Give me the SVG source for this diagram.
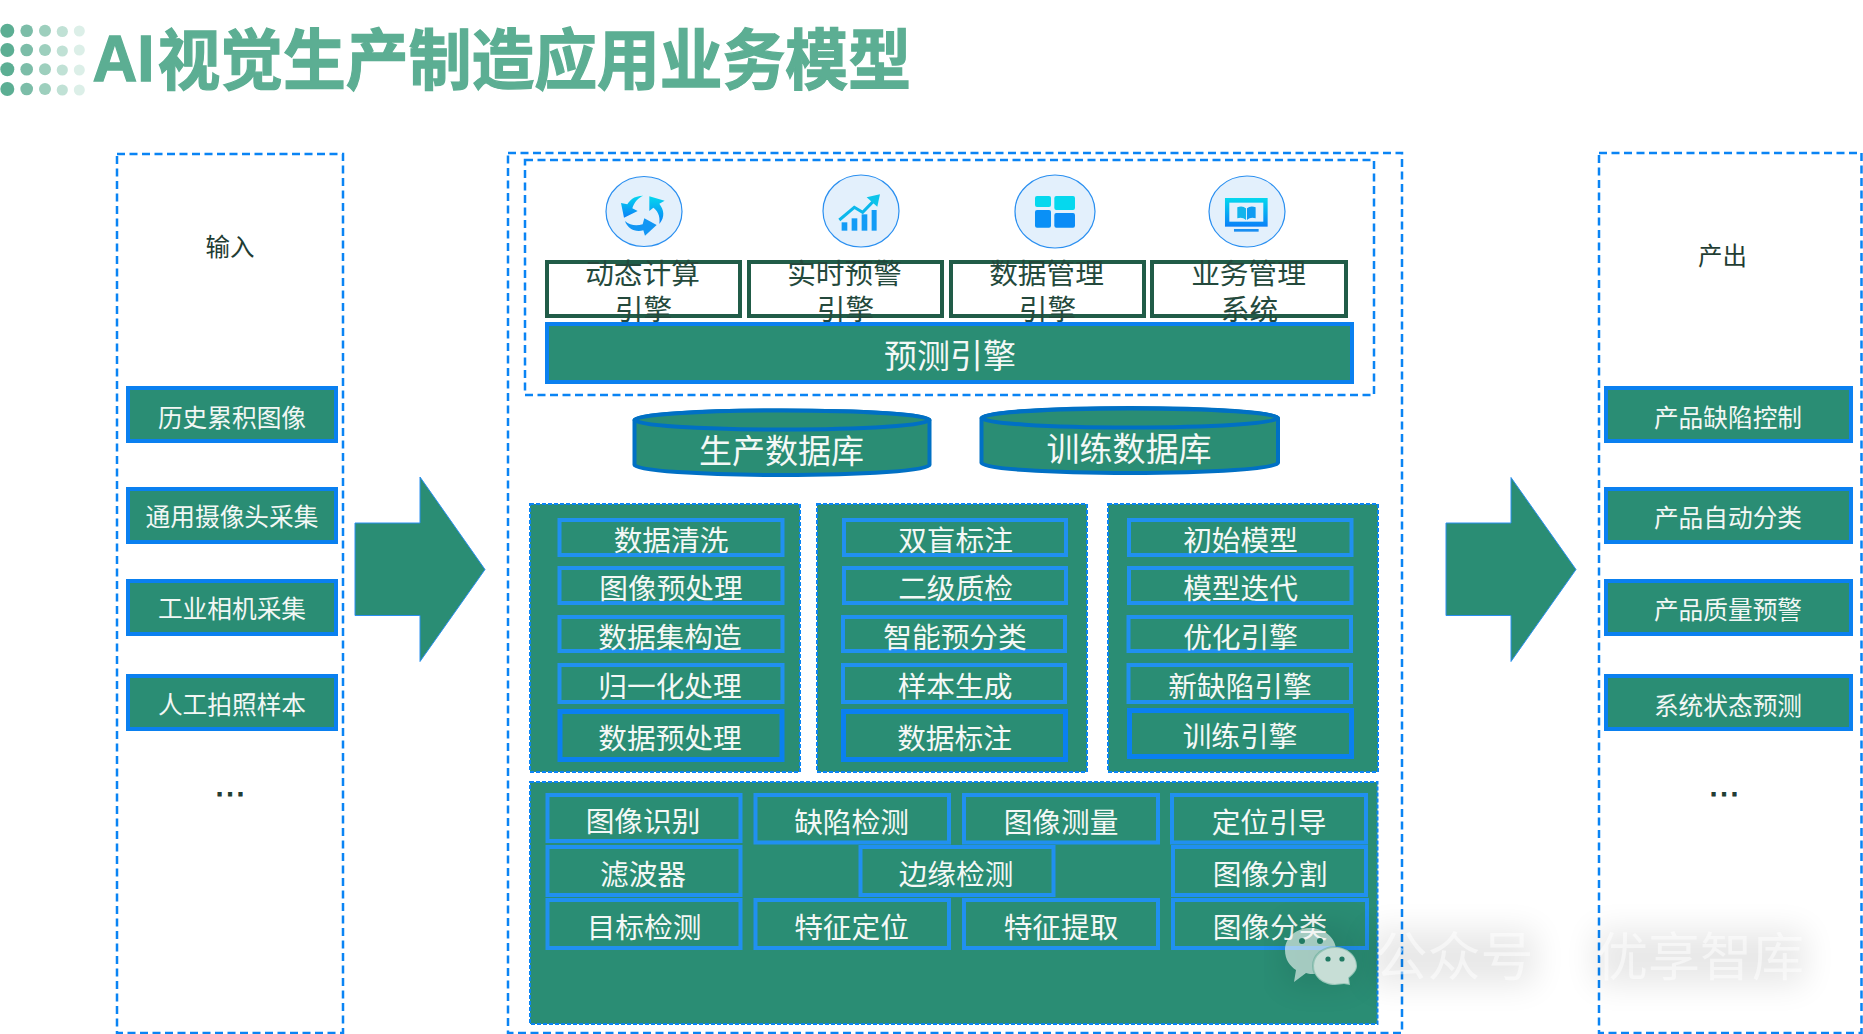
<svg xmlns="http://www.w3.org/2000/svg" width="1863" height="1034" viewBox="0 0 1863 1034">
<style>
text{font-family:"Noto Sans CJK SC","Liberation Sans",sans-serif;text-anchor:middle}
.panel{fill:#fff;stroke:#0a84f4;stroke-width:2.5;stroke-dasharray:8 4.5}
.gp{fill:#2a8d74;stroke:#0a84f4;stroke-width:2;stroke-dasharray:4 2}
.b{fill:#2a8d74;stroke:#0a80f0;stroke-width:4}
.l{fill:none;stroke:#2090f0;stroke-width:4}
.d{fill:none;stroke:#0a80f0;stroke-width:5}
.e{fill:#fff;stroke:#215c48;stroke-width:4}
.ic{fill:#e3f0fc;stroke:#2a8ff0;stroke-width:1.2}
.cyl{fill:#2a8d74;stroke:#0070c4;stroke-width:4}
.w25{fill:#f2f7f4;font-size:24.7px}
.w29{fill:#f4f8f6;font-size:28.7px}
.w33{fill:#f4f8f6;font-size:33px}
.k25{fill:#1f3d33;font-size:24.5px}
.k29{fill:#24493c;font-size:28.7px}
.dots{font-family:"Liberation Sans",sans-serif;fill:#1f3d33;font-size:33px;stroke:#1f3d33;stroke-width:1}
.arrow{fill:#2a8d74;stroke:#2a8ff0;stroke-width:1}
.t{fill:#5cae93;font-size:62.8px;font-weight:700;text-anchor:start;stroke:#5cae93;stroke-width:1.2}
.wm{fill:#fff;fill-opacity:.5}
</style>
<defs>
<linearGradient id="g1" x1="0" y1="0" x2="0" y2="1"><stop offset="0" stop-color="#05d8ee"/><stop offset="1" stop-color="#0a80f8"/></linearGradient>
<filter id="blur" x="-30%" y="-80%" width="160%" height="260%"><feGaussianBlur stdDeviation="16"/></filter>
</defs>

<g id="title">
<g fill="#5cae93"><circle cx="7.3" cy="30.7" r="7"/><circle cx="7.3" cy="50" r="7"/><circle cx="7.3" cy="69.3" r="7"/><circle cx="7.3" cy="89" r="7"/></g>
<g fill="#7cbda8"><circle cx="26.7" cy="30.7" r="6.3"/><circle cx="26.7" cy="50" r="6.3"/><circle cx="26.7" cy="69.3" r="6.3"/><circle cx="26.7" cy="89" r="6.3"/></g>
<g fill="#9dcfbd"><circle cx="45" cy="30.7" r="6"/><circle cx="45" cy="50" r="6"/><circle cx="45" cy="69.3" r="6"/><circle cx="45" cy="89" r="6"/></g>
<g fill="#c0e1d5"><circle cx="62.3" cy="31.500" r="5.600"/><circle cx="62.3" cy="51" r="5.600"/><circle cx="62.3" cy="70" r="5.600"/><circle cx="62.3" cy="90" r="5.600"/></g>
<g fill="#dcefe8"><circle cx="79.3" cy="31" r="5.500"/><circle cx="79.3" cy="50" r="5.500"/><circle cx="79.3" cy="70" r="5.500"/><circle cx="79.3" cy="90" r="5.500"/></g>
<text class="t" transform="translate(92.5,83.5) scale(1,1.05)"><tspan font-family="Liberation Sans" font-size="62" dy="-2.5">AI</tspan><tspan dx="3" dy="2.5">视觉生产制造应用业务模型</tspan></text>
</g>

<g id="connectors">
<path class="arrow" d="M355 523H420V477L485 569.5L420 661.5V615.5H355Z"/>
<path class="arrow" d="M1446 523H1511V477.5L1576 569.5L1511 661.5V615.5H1446Z"/>
</g>

<g id="input-panel">
<rect class="panel" x="117" y="154" width="226" height="879"/>
<text class="k25" x="230" y="256">输入</text>
<g id="in1"><rect class="b" x="128" y="388" width="208" height="53"/><text class="w25" x="232" y="427">历史累积图像</text></g>
<g id="in2"><rect class="b" x="128" y="489" width="208" height="53"/><text class="w25" x="232" y="526">通用摄像头采集</text></g>
<g id="in3"><rect class="b" x="128" y="581" width="208" height="53"/><text class="w25" x="232" y="618">工业相机采集</text></g>
<g id="in4"><rect class="b" x="128" y="676" width="208" height="53"/><text class="w25" x="232" y="714">人工拍照样本</text></g>
<text class="dots" x="230" y="796">…</text>
</g>

<g id="center-panel">
<rect class="panel" x="508" y="153" width="894" height="880"/>
<rect class="panel" x="525" y="160" width="849" height="235"/>
</g>

<g id="icons">
<g id="icon1"><ellipse class="ic" cx="644" cy="211.500" rx="38" ry="35"/>
<g transform="translate(590,165) scale(.3333)" fill="url(#g1)"><path d="M160 92C130 92 118 108 112 118L93 114L102 158L143 138L127 130C132 112 145 98 160 92Z"/><path d="M178 94L224 107L208 116C222 135 226 155 208 177C212 150 200 135 190 128L178 138Z"/><path fill="#1296f4" d="M105 168C120 182 140 183 158 178L163 160L200 180L165 212L160 196C135 203 112 190 105 168Z"/></g></g>
<g id="icon2"><ellipse class="ic" cx="861" cy="211" rx="38" ry="36"/>
<g transform="translate(590,165) scale(.3333)"><g fill="#129cf6"><rect x="755" y="172" width="17" height="25"/><rect x="785" y="160" width="17" height="37"/><rect x="815" y="148" width="17" height="49"/><rect x="845" y="135" width="15" height="62"/></g><polyline points="748,165 793,127 818,142 855,104" fill="none" stroke="#0cb8ec" stroke-width="9"/><polygon points="830,97 870,88 862,125" fill="#0cc4ea"/></g></g>
<g id="icon3"><ellipse class="ic" cx="1055" cy="211.500" rx="40" ry="36.500"/>
<g transform="translate(990,165) scale(.3333)"><rect x="135" y="93" width="48" height="33" rx="6" fill="#05d8ee"/><rect x="193" y="93" width="62" height="42" rx="6" fill="#05d8ee"/><rect x="135" y="135" width="48" height="53" rx="6" fill="#0a90f6"/><rect x="193" y="144" width="62" height="44" rx="6" fill="#0a8cf6"/></g></g>
<g id="icon4"><ellipse class="ic" cx="1247" cy="211.500" rx="38" ry="35.500"/>
<g transform="translate(990,165) scale(.3333)"><rect x="705" y="99" width="128" height="86" fill="url(#g1)"/><rect x="718" y="113" width="102" height="57" fill="#e3f0fc"/><path d="M742 127C752 122 762 124 768 130V165C760 158 752 157 742 160Z" fill="#12b4ec"/><path d="M797 127C787 122 777 124 771 130V165C779 158 787 157 797 160Z" fill="#0f9cf2"/><rect x="732" y="192" width="74" height="8" fill="#1a8ff2"/></g></g>
</g>

<g id="engines">
<g id="e1"><rect class="e" x="547" y="262" width="193" height="54"/><text class="k29" x="642.500" y="284">动态计算</text><text class="k29" x="643.500" y="320">引擎</text></g>
<g id="e2"><rect class="e" x="749" y="262" width="193" height="54"/><text class="k29" x="844.500" y="284">实时预警</text><text class="k29" x="845.500" y="320">引擎</text></g>
<g id="e3"><rect class="e" x="951" y="262" width="193" height="54"/><text class="k29" x="1046.500" y="284">数据管理</text><text class="k29" x="1047.500" y="320">引擎</text></g>
<g id="e4"><rect class="e" x="1152" y="262" width="194" height="54"/><text class="k29" x="1248.500" y="284">业务管理</text><text class="k29" x="1249.500" y="320">系统</text></g>
<g id="predict"><rect class="b" x="547" y="324" width="805" height="58"/><text class="w33" x="950" y="368">预测引擎</text></g>
</g>

<g id="db1"><path class="cyl" d="M634.500 420C634.500 414.500 700 410.500 782 410.500S929.500 414.500 929.500 420V465C929.500 470.500 864 475 782 475S634.500 470.500 634.500 465Z"/><ellipse cx="782" cy="420" rx="147.500" ry="9.500" fill="#2a8d74" stroke="#0070c4" stroke-width="4"/><text class="w33" x="781.500" y="463">生产数据库</text></g>
<g id="db2"><path class="cyl" d="M981.500 418C981.500 412.500 1048 408 1130 408S1278 412.500 1278 418V463C1278 468.500 1212 473 1130 473S981.500 468.500 981.500 463Z"/><ellipse cx="1129.800" cy="418" rx="148.200" ry="9.500" fill="#2a8d74" stroke="#0070c4" stroke-width="4"/><text class="w33" x="1129" y="461">训练数据库</text></g>

<g id="col1">
<rect class="gp" x="530" y="504" width="270" height="268"/>
<rect class="l" x="559.500" y="520" width="223" height="35"/><text class="w29" x="671" y="551">数据清洗</text>
<rect class="l" x="559.500" y="568" width="223" height="35"/><text class="w29" x="671" y="599">图像预处理</text>
<rect class="l" x="559.500" y="617" width="223" height="34"/><text class="w29" x="670" y="647.500">数据集构造</text>
<rect class="l" x="559.500" y="665" width="223" height="37"/><text class="w29" x="670" y="697">归一化处理</text>
<rect class="d" x="560" y="711.500" width="222" height="48"/><text class="w29" x="670" y="749">数据预处理</text>
</g>
<g id="col2">
<rect class="gp" x="817" y="504" width="270" height="268"/>
<rect class="l" x="844" y="520" width="222" height="35"/><text class="w29" x="955.500" y="551">双盲标注</text>
<rect class="l" x="844" y="568" width="222" height="35"/><text class="w29" x="955.500" y="599">二级质检</text>
<rect class="l" x="843" y="617" width="222" height="34"/><text class="w29" x="955" y="647.500">智能预分类</text>
<rect class="l" x="843" y="665" width="222" height="37"/><text class="w29" x="955" y="697">样本生成</text>
<rect class="d" x="843.500" y="711.500" width="222" height="48"/><text class="w29" x="954.500" y="749">数据标注</text>
</g>
<g id="col3">
<rect class="gp" x="1108" y="504" width="270" height="268"/>
<rect class="l" x="1129" y="520" width="222.500" height="35"/><text class="w29" x="1240.500" y="551">初始模型</text>
<rect class="l" x="1129" y="568" width="222.500" height="35"/><text class="w29" x="1240.500" y="599">模型迭代</text>
<rect class="l" x="1128.500" y="617" width="222.500" height="34"/><text class="w29" x="1240.500" y="647.500">优化引擎</text>
<rect class="l" x="1128.500" y="665" width="222.500" height="37"/><text class="w29" x="1240" y="697">新缺陷引擎</text>
<rect class="d" x="1129.500" y="710.500" width="222" height="46"/><text class="w29" x="1240" y="747">训练引擎</text>
</g>

<g id="bottom">
<rect class="gp" x="530" y="782" width="847.500" height="242"/>
<rect class="l" x="547.500" y="795" width="193" height="46"/><text class="w29" x="643" y="832">图像识别</text>
<rect class="l" x="755.500" y="795" width="193.500" height="47.500"/><text class="w29" x="851.500" y="833">缺陷检测</text>
<rect class="l" x="964" y="795" width="194" height="47.500"/><text class="w29" x="1061" y="833">图像测量</text>
<rect class="l" x="1172" y="795" width="194" height="47.500"/><text class="w29" x="1269" y="833">定位引导</text>
<rect class="l" x="547.500" y="847" width="193" height="48"/><text class="w29" x="643" y="885">滤波器</text>
<rect class="l" x="860.500" y="847" width="193" height="48"/><text class="w29" x="956" y="885">边缘检测</text>
<rect class="l" x="1173" y="847" width="193" height="48"/><text class="w29" x="1270" y="885">图像分割</text>
<rect class="l" x="547.500" y="900" width="193" height="48"/><text class="w29" x="644" y="938">目标检测</text>
<rect class="l" x="755.500" y="900" width="193.500" height="48"/><text class="w29" x="851.500" y="938">特征定位</text>
<rect class="l" x="964" y="900" width="194" height="48"/><text class="w29" x="1061" y="938">特征提取</text>
<rect class="l" x="1173" y="900" width="194" height="48"/><text class="w29" x="1270" y="938">图像分类</text>
</g>

<g id="output-panel">
<rect class="panel" x="1599" y="153" width="262.500" height="880"/>
<text class="k25" x="1722.500" y="265">产出</text>
<g id="out1"><rect class="b" x="1606" y="388" width="245" height="53"/><text class="w25" x="1728" y="427">产品缺陷控制</text></g>
<g id="out2"><rect class="b" x="1606" y="489" width="245" height="53"/><text class="w25" x="1728" y="526.500">产品自动分类</text></g>
<g id="out3"><rect class="b" x="1606" y="581" width="245" height="53"/><text class="w25" x="1728" y="619">产品质量预警</text></g>
<g id="out4"><rect class="b" x="1606" y="676" width="245" height="53"/><text class="w25" x="1728" y="714.500">系统状态预测</text></g>
<text class="dots" x="1724" y="796">…</text>
</g>

<g id="watermark">
<rect x="1370" y="930" width="165" height="55" fill="#000" opacity=".09" filter="url(#blur)"/>
<rect x="1595" y="930" width="210" height="55" fill="#000" opacity=".09" filter="url(#blur)"/>
<rect x="1285" y="925" width="70" height="60" fill="#000" opacity=".1" filter="url(#blur)"/>
<g fill="#fff" fill-opacity=".58"><path d="M1310 928C1296 928 1285 938 1285 950C1285 960 1290 966 1296 970L1294 982L1306 973C1308 974 1312 974 1315 974C1330 974 1336 962 1336 950C1336 938 1324 928 1310 928Z"/></g>
<path d="M1335 947C1323 947 1313 955 1313 966C1313 977 1323 985 1335 985C1338 985 1341 984 1344 984L1350 985L1349 978C1354 974 1357 970 1357 966C1357 955 1347 947 1335 947Z" fill="#c7ded6" stroke="#2a8d74" stroke-opacity=".3" stroke-width="2"/>
<g fill="#217a63"><circle cx="1302" cy="941" r="3"/><circle cx="1320" cy="941" r="3"/><circle cx="1328" cy="959" r="2.600"/><circle cx="1342" cy="959" r="2.600"/></g>
<text class="wm" x="1454" y="976" font-size="53">公众号</text>
<text class="wm" x="1700" y="976" font-size="52">优享智库</text>
</g>
</svg>
